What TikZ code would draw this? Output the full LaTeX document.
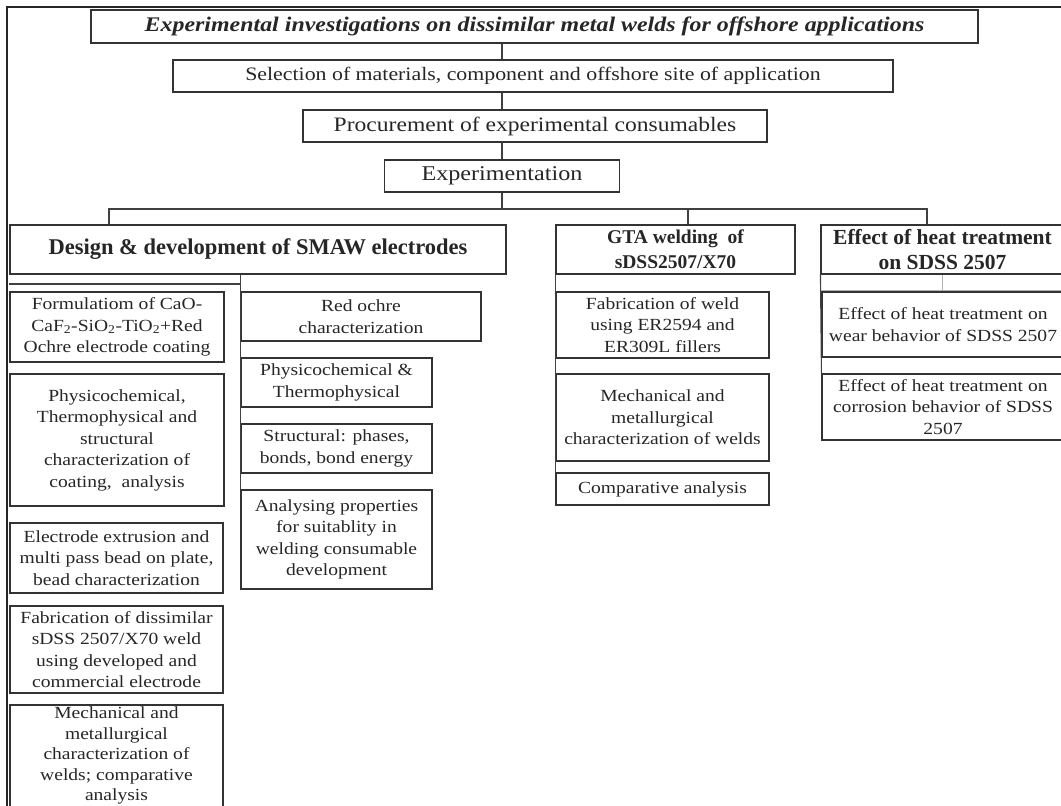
\documentclass[tikz,border=0pt]{standalone}
\usepackage{fontspec}
\setmainfont{Liberation Serif}[FakeStretch=1.15]
\newfontfamily\headserif{Liberation Serif}
\usetikzlibrary{positioning}
\tikzset{box/.style={draw=black!80,line width=1.1pt,align=center,inner sep=0pt,text=black!85,
                     font=\fontsize{17}{21.5}\selectfont},
         top/.style={box,font=\fontsize{#1}{24}\selectfont},
         head/.style={box,font=\headserif\fontsize{#1}{25}\selectfont\bfseries},
         link/.style={draw=black!75,line width=1.1pt},
         faint/.style={draw=black!30,line width=1pt},
        }

\begin{document}
\begin{tikzpicture}[x=1pt,y=-1pt]
        \useasboundingbox (0,0) rectangle (1061,806);
        \draw[line width=2.8pt,black!85](1062,7)--(7,7)--(7,807);

        \node[box,minimum width=887,minimum height=33,font=\fontsize{20.8}{24}\selectfont\bfseries\itshape](title)at(534.5,26.5){Experimental investigations on dissimilar metal welds for offshore applications};
        \node[top=19,minimum width=720,minimum height=32](select)at(533,76){Selection of materials, component and offshore site of application};
        \node[top=20.5,minimum width=464,minimum height=32](procure)at(535,126){Procurement of experimental consumables};
        \node[top=21,minimum width=235,minimum height=32](expt)at(502,176){Experimentation};

        \draw[link](title.south -| expt.north)--(select.north -| expt.north);
        \draw[link](select.south -| expt.north)--(procure.north -| expt.north);
        \draw[link](procure.south -| expt.north)--(expt.north);

        \node[head=22.5,minimum width=496,minimum height=49](design)at(258,249.5){Design \& development of SMAW electrodes};
        \node[head=19.5,minimum width=239,minimum height=49](gta)at(675.5,249.5){GTA welding\ \ of\\sDSS2507/X70};
        \node[head=21.5,minimum width=243,minimum height=49](effect)at(942.5,249.5){Effect of heat treatment\\on SDSS 2507};

        \coordinate(bl)at(109,209);
        \coordinate(bg)at(688,209);
        \coordinate(br)at(927,209);
        \draw[link](expt.south)--(expt.south |- bl);
        \draw[link](bl |- design.north)--(bl)--(br)--(br |- effect.north);
        \draw[link](bg)--(bg |- gta.north);

        \node[box,minimum width=214,minimum height=70](form)at(117,327){Formulatiom of CaO-\\CaF\textsubscript{2}-SiO\textsubscript{2}-TiO\textsubscript{2}+Red\\Ochre electrode coating};
        \node[box,minimum width=214,minimum height=132](physl)at(117,440){Physicochemical,\\Thermophysical and\\structural\\characterization of\\coating,\ \ analysis};
        \node[box,minimum width=213,minimum height=70](extr)at(116.5,558){Electrode extrusion and\\multi pass bead on plate,\\bead characterization};
        \node[box,minimum width=213,minimum height=87](fabl)at(116.5,649.5){Fabrication of dissimilar\\sDSS 2507/X70 weld\\using developed and\\commercial electrode};
        \node[box,minimum width=213,minimum height=112,text depth=14pt,font=\fontsize{17}{20.5}\selectfont](mechl)at(116.5,761){Mechanical and\\metallurgical\\characterization of\\welds; comparative\\analysis};

        \node[box,minimum width=240,minimum height=49](ochre)at(361,316.5){Red ochre\\characterization};
        \node[box,minimum width=191,minimum height=49](physr)at(336.5,382.5){Physicochemical \&\\Thermophysical};
        \node[box,minimum width=191,minimum height=49](struct)at(336.5,448.5){Structural: phases,\\bonds, bond energy};
        \node[box,minimum width=191,minimum height=99](anal)at(336.5,539.5){Analysing properties\\for suitablity in\\welding consumable\\development};

        \coordinate(dl)at(241,284);
        \draw[link](anal.north west)--(anal.north west |- design.south);
        \draw[link](dl)--(form.west |- dl);

        \node[box,minimum width=213,minimum height=66](gfab)at(662.5,325){Fabrication of weld\\using ER2594 and\\ER309L fillers};
        \node[box,minimum width=213,minimum height=87](gmech)at(662.5,417.5){Mechanical and\\metallurgical\\characterization of welds};
        \node[box,minimum width=213,minimum height=32](gcomp)at(662.5,489){Comparative analysis};
        \draw[link](gta.south west)--(gcomp.north west);

        \node[box,minimum width=242,minimum height=65](wear)at(943,324.5){Effect of heat treatment on\\wear behavior of SDSS 2507};
        \node[box,minimum width=242,minimum height=66](corr)at(943,407){Effect of heat treatment on\\corrosion behavior of SDSS\\2507};
        \draw[link](effect.south west)--(corr.north west);
        \draw[faint](effect.south)--++(0,16)coordinate(ef);
        \draw[faint](wear.north west |- ef)--(wear.north east |- ef);
    \end{tikzpicture}
\end{document}
